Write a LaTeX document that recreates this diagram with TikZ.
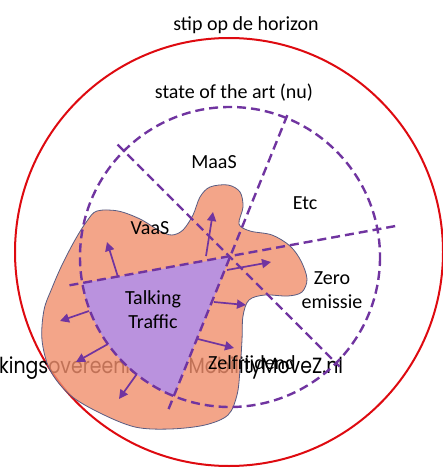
\documentclass[tikz,border=0pt]{standalone}
\usepackage{fontspec}
\setmainfont{Carlito}
\newfontfamily\gothfont[FakeStretch=0.86]{Poppins}
\usepackage{tikz}
\usepackage{xcolor}
\usetikzlibrary{arrows.meta,calc}
\definecolor{horizonRed}{RGB}{222,10,16}
\definecolor{artPurple}{RGB}{112,52,160}
\definecolor{blobSalmon}{RGB}{240,142,108}
\definecolor{blobEdge}{RGB}{88,92,130}
\definecolor{ttLilac}{RGB}{186,146,222}

\tikzset{
  lbl/.style={font=\fontsize{20}{24}\selectfont, inner sep=0pt},
  artline/.style={artPurple, line width=2.4pt, dash pattern=on 9pt off 5pt},
  growarrow/.style={artPurple, line width=1.7pt, -{Triangle[length=9pt,width=9pt]}}
}

\begin{document}
\begin{tikzpicture}[x=1pt,y=-1pt]
                    \useasboundingbox (0,0) rectangle (442,468);
                    \coordinate (c) at (230,257);

                    % stip op de horizon
                    \draw[horizonRed, line width=2pt] (229,252) circle[radius=214];

                    % text under the blob
                    \node[anchor=west, inner sep=0pt, font=\gothfont\fontsize{22}{26}\selectfont] (mobz) at (-1,368) {kingsovereenkomst MobilityMoveZ.nl};

                    % blob
                    \draw[blobEdge, line width=0.8pt, fill=blobSalmon, fill opacity=0.8] plot[smooth cycle, tension=0.55] coordinates {
                      (97,211) (118,211) (140,219) (160,231) (172,235) (183,230) (193,215) (200,197) (210,187) (228,185)
                      (240,192) (243,207) (239,224) (250,231) (272,235) (290,246) (301,261) (307,279) (302,292) (288,296)
                      (265,295) (249,300) (243,316) (242,340) (240,370) (237,395) (228,415) (205,425) (170,429) (135,427)
                      (100,413) (70,395) (50,370) (42,340) (44,310) (52,288) (62,265) (75,240) (87,221)};

                    % groei
                    \draw[growarrow] (206,256) -- (213,212);
                    \draw[growarrow] (118,277) -- (107,242);
                    \draw[growarrow] (227,270) -- (271,262);
                    \draw[growarrow] (214,302) -- (246,305);
                    \draw[growarrow] (89,311) -- (60,321);
                    \draw[growarrow] (108,344) -- (76,362);
                    \draw[growarrow] (139,371) -- (119,399);
                    \draw[growarrow] (198,339) -- (234,348);

                    % Talking Traffic
                    \fill[ttLilac] (c) -- ($(c)+(170:150)$) arc[start angle=170, end angle=112, radius=150] -- cycle;

                    % state of the art
                    \draw[artline] (c) circle[radius=150];
                    \draw[artline] ($(c)+(225:159)$) -- ($(c)+(45:155)$);
                    \draw[artline] ($(c)+(292:153)$) -- ($(c)+(112:166)$);
                    \draw[artline] ($(c)+(349.4:168)$) -- ($(c)+(170:165)$);

                    \node[lbl] (horizon) at (246,25) {stip op de horizon};
                    \node[lbl] (nu) at (234,93) {state of the art (nu)};
                    \node[lbl] (maas) at (214,162) {MaaS};
                    \node[lbl] (etc) at (305,203) {Etc};
                    \node[lbl] (vaas) at (150,228) {VaaS};
                    \node[lbl, align=center] (zero) at (332,290) {Zero\\emissie};
                    \node[lbl, align=center] (tt) at (153,310) {Talking\\Traffic};
                    \node[lbl] (zelf) at (252,364) {Zelfrijdend};
                \end{tikzpicture}
\end{document}
